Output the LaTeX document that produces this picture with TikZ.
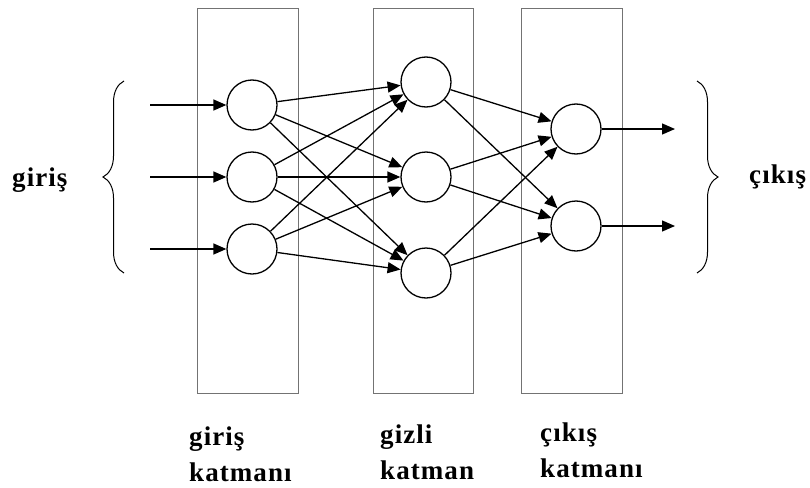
\documentclass[tikz,border=0pt]{standalone}
\usepackage{fontspec}
\setmainfont{Liberation Serif}
\newfontfamily\lblfont[LetterSpace=4]{Liberation Serif}
\usetikzlibrary{arrows.meta,decorations.pathreplacing}

\begin{document}
\begin{tikzpicture}[x=1pt, y=-1pt,
    neuron/.style={circle, draw, line width=1.3pt, minimum size=50pt, inner sep=0pt},
    layerbox/.style={draw=black!55, line width=0.9pt},
    arr/.style={-{Triangle[length=13pt,width=11pt]}, line width=1.3pt},
    lbl/.style={font=\lblfont\bfseries\fontsize{27}{36}\selectfont, align=left, inner sep=0pt},
    brc/.style={decorate, decoration={brace, amplitude=21pt}, line width=1pt}
]
    \useasboundingbox (0,0) rectangle (810,487);

    % layer boxes
    \draw[layerbox] (197,8) rectangle (298,393);
    \draw[layerbox] (373,8) rectangle (473,393);
    \draw[layerbox] (521,8) rectangle (622,393);

    % neurons
    \node[neuron] (in1) at (252,105) {};
    \node[neuron] (in2) at (252,177) {};
    \node[neuron] (in3) at (252,249) {};
    \node[neuron] (hid1) at (426,82) {};
    \node[neuron] (hid2) at (426,177) {};
    \node[neuron] (hid3) at (426,273) {};
    \node[neuron] (out1) at (576,129) {};
    \node[neuron] (out2) at (576,226) {};

    % free ends of the input and output arrows
    \coordinate (x1) at (150,105);
    \coordinate (x2) at (150,177);
    \coordinate (x3) at (150,249);
    \coordinate (y1) at (675,129);
    \coordinate (y2) at (675,226);

    \draw[arr] (x1) -- (in1);
    \draw[arr] (x2) -- (in2);
    \draw[arr] (x3) -- (in3);

    \draw[arr] (in1) -- (hid1);
    \draw[arr] (in1) -- (hid2);
    \draw[arr] (in1) -- (hid3);
    \draw[arr] (in2) -- (hid1);
    \draw[arr] (in2) -- (hid2);
    \draw[arr] (in2) -- (hid3);
    \draw[arr] (in3) -- (hid1);
    \draw[arr] (in3) -- (hid2);
    \draw[arr] (in3) -- (hid3);

    \draw[arr] (hid1) -- (out1);
    \draw[arr] (hid1) -- (out2);
    \draw[arr] (hid2) -- (out1);
    \draw[arr] (hid2) -- (out2);
    \draw[arr] (hid3) -- (out1);
    \draw[arr] (hid3) -- (out2);

    \draw[arr] (out1) -- (y1);
    \draw[arr] (out2) -- (y2);

    % braces
    \draw[brc] (124,273) -- (124,81);
    \draw[brc] (697,81) -- (697,273);

    % labels
    \node[lbl, anchor=base west] (inlbl) at (12,186) {giriş};
    \node[lbl, anchor=base west] (outlbl) at (749,183) {çıkış};
    \node[lbl, anchor=base west] (l1) at (189,481) {giriş\\katmanı};
    \node[lbl, anchor=base west] (l2) at (380,479) {gizli\\katman};
    \node[lbl, anchor=base west] (l3) at (540,477) {çıkış\\katmanı};
\end{tikzpicture}
\end{document}
